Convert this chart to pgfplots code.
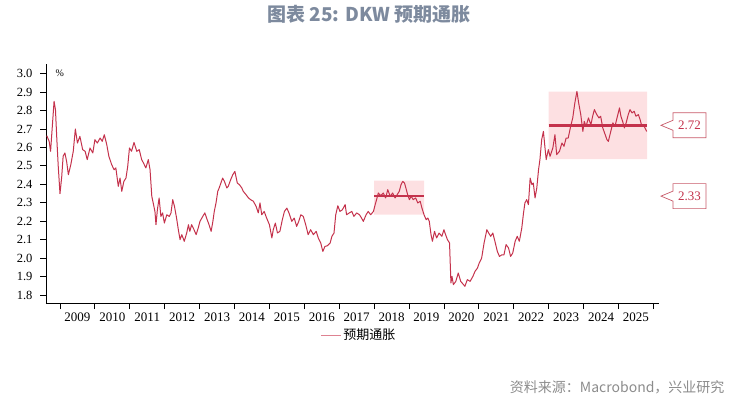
\documentclass[border=0pt]{standalone}
\usepackage{pgfplots}
\pgfplotsset{compat=1.18}
\usepackage{pgfplotstable}
\usepackage{fontspec}
\setmainfont{Liberation Serif}
\newfontfamily\cjk{Noto Sans CJK SC}
\definecolor{dkwred}{RGB}{196,50,76}
\definecolor{pinkfill}{RGB}{253,224,226}
\definecolor{titlecol}{RGB}{125,138,158}
\definecolor{srccol}{RGB}{140,140,140}
\definecolor{boxcol}{RGB}{200,90,105}
\definecolor{legcol}{RGB}{222,130,145}
\pgfplotstableread{
x y
2008.62 2.664
2008.69 2.633
2008.73 2.579
2008.77 2.687
2008.83 2.85
2008.87 2.805
2008.91 2.642
2008.95 2.497
2009.00 2.349
2009.05 2.443
2009.09 2.552
2009.14 2.57
2009.19 2.524
2009.24 2.452
2009.31 2.507
2009.38 2.579
2009.44 2.70
2009.50 2.624
2009.57 2.66
2009.65 2.588
2009.72 2.579
2009.78 2.534
2009.86 2.597
2009.94 2.57
2010.00 2.642
2010.07 2.624
2010.15 2.651
2010.21 2.633
2010.27 2.669
2010.34 2.615
2010.40 2.552
2010.48 2.507
2010.55 2.479
2010.60 2.489
2010.67 2.389
2010.72 2.434
2010.77 2.362
2010.83 2.416
2010.89 2.434
2010.94 2.497
2010.99 2.597
2011.05 2.579
2011.12 2.627
2011.20 2.579
2011.27 2.588
2011.34 2.534
2011.39 2.516
2011.46 2.489
2011.53 2.534
2011.58 2.479
2011.63 2.335
2011.67 2.299
2011.72 2.253
2011.75 2.181
2011.79 2.262
2011.84 2.326
2011.89 2.226
2011.94 2.245
2011.99 2.19
2012.06 2.235
2012.13 2.226
2012.18 2.245
2012.23 2.317
2012.28 2.28
2012.34 2.217
2012.39 2.154
2012.44 2.10
2012.49 2.127
2012.56 2.091
2012.63 2.136
2012.68 2.181
2012.72 2.145
2012.77 2.181
2012.84 2.154
2012.90 2.127
2012.96 2.163
2013.01 2.199
2013.09 2.226
2013.15 2.245
2013.20 2.217
2013.27 2.181
2013.33 2.145
2013.38 2.199
2013.42 2.253
2013.47 2.299
2013.52 2.362
2013.56 2.38
2013.61 2.407
2013.66 2.434
2013.71 2.416
2013.78 2.38
2013.82 2.389
2013.89 2.425
2013.95 2.452
2014.01 2.47
2014.08 2.407
2014.14 2.398
2014.21 2.38
2014.25 2.362
2014.33 2.344
2014.40 2.326
2014.46 2.317
2014.54 2.308
2014.62 2.28
2014.68 2.245
2014.73 2.299
2014.78 2.235
2014.85 2.253
2014.92 2.217
2015.00 2.181
2015.07 2.109
2015.11 2.154
2015.17 2.19
2015.23 2.136
2015.30 2.145
2015.37 2.208
2015.43 2.253
2015.50 2.271
2015.56 2.245
2015.64 2.199
2015.71 2.217
2015.78 2.172
2015.84 2.199
2015.90 2.235
2015.97 2.226
2016.04 2.181
2016.11 2.127
2016.18 2.154
2016.26 2.127
2016.34 2.145
2016.40 2.109
2016.47 2.082
2016.53 2.036
2016.59 2.063
2016.66 2.067
2016.74 2.082
2016.79 2.118
2016.85 2.136
2016.90 2.235
2016.96 2.284
2017.02 2.253
2017.09 2.262
2017.17 2.29
2017.21 2.235
2017.29 2.245
2017.36 2.253
2017.42 2.226
2017.50 2.245
2017.58 2.235
2017.64 2.217
2017.69 2.199
2017.77 2.235
2017.83 2.253
2017.90 2.235
2017.98 2.253
2018.03 2.29
2018.07 2.317
2018.12 2.353
2018.19 2.338
2018.26 2.353
2018.33 2.326
2018.39 2.371
2018.46 2.335
2018.53 2.353
2018.60 2.326
2018.66 2.344
2018.72 2.362
2018.77 2.398
2018.82 2.416
2018.87 2.407
2018.91 2.38
2018.96 2.344
2019.01 2.317
2019.06 2.335
2019.12 2.317
2019.19 2.326
2019.25 2.299
2019.32 2.308
2019.37 2.271
2019.43 2.235
2019.49 2.208
2019.54 2.217
2019.58 2.199
2019.63 2.127
2019.67 2.091
2019.73 2.145
2019.79 2.109
2019.86 2.136
2019.94 2.118
2020.00 2.154
2020.03 2.136
2020.10 2.10
2020.16 2.082
2020.20 1.865
2020.23 1.901
2020.27 1.856
2020.34 1.874
2020.41 1.919
2020.48 1.874
2020.56 1.856
2020.60 1.847
2020.67 1.883
2020.75 1.874
2020.83 1.901
2020.89 1.928
2020.96 1.946
2021.01 1.973
2021.08 2.0
2021.15 2.082
2021.23 2.154
2021.28 2.136
2021.34 2.118
2021.40 2.136
2021.46 2.091
2021.53 2.036
2021.59 2.009
2021.66 2.018
2021.72 2.018
2021.78 2.073
2021.85 2.055
2021.91 2.009
2021.97 2.027
2022.04 2.091
2022.10 2.118
2022.16 2.091
2022.23 2.163
2022.28 2.245
2022.32 2.299
2022.37 2.317
2022.42 2.29
2022.47 2.434
2022.52 2.398
2022.56 2.407
2022.61 2.326
2022.66 2.38
2022.71 2.479
2022.75 2.534
2022.80 2.642
2022.85 2.687
2022.90 2.588
2022.93 2.534
2022.99 2.588
2023.04 2.552
2023.12 2.597
2023.18 2.669
2023.23 2.561
2023.31 2.579
2023.38 2.624
2023.44 2.606
2023.50 2.651
2023.56 2.651
2023.63 2.714
2023.69 2.76
2023.75 2.841
2023.81 2.904
2023.86 2.841
2023.92 2.778
2023.98 2.687
2024.02 2.741
2024.07 2.714
2024.14 2.76
2024.21 2.723
2024.26 2.769
2024.31 2.805
2024.38 2.778
2024.44 2.76
2024.49 2.769
2024.55 2.706
2024.62 2.669
2024.67 2.642
2024.71 2.633
2024.78 2.687
2024.84 2.733
2024.90 2.714
2024.97 2.769
2025.03 2.814
2025.07 2.769
2025.12 2.741
2025.17 2.706
2025.22 2.733
2025.28 2.778
2025.33 2.805
2025.39 2.787
2025.45 2.796
2025.50 2.769
2025.57 2.778
2025.62 2.751
2025.67 2.714
2025.71 2.723
2025.76 2.706
2025.81 2.687
}\dkw
\begin{document}
\begin{tikzpicture}
\path[use as bounding box] (0pt,0pt) rectangle (750pt,399pt);
\node[font=\cjk\bfseries\fontsize{19}{19}\selectfont, text=titlecol] at (369pt,385pt) {图表 25: DKW 预期通胀};
\node[font=\cjk\fontsize{14}{14}\selectfont, text=srccol, anchor=east] at (728pt,12pt) {资料来源：Macrobond，兴业研究};
\begin{axis}[
  at={(46pt,96pt)}, anchor=south west,
  scale only axis, width=613.3pt, height=239.3pt,
  xmin=2008.599, xmax=2026.17,
  ymin=1.7565, ymax=3.054,
  axis x line*=bottom, axis y line*=left,
  axis line style={black, line width=0.8pt},
  tick align=outside, major tick length=6pt,
  tick style={black, line width=0.8pt},
  xtick={2009,2010,...,2026},
  xticklabels={2009,2010,2011,2012,2013,2014,2015,2016,2017,2018,2019,2020,2021,2022,2023,2024,2025,{}},
  xticklabel style={xshift=17.45pt, font=\fontsize{13}{13}\selectfont},
  ytick={1.8,1.9,...,3.01},
  yticklabel style={xshift=-4pt, font=\fontsize{12.5}{12.5}\selectfont, /pgf/number format/.cd, fixed, fixed zerofill, precision=1, assume math mode=true},
  clip=false,
  legend style={at={(0.51,-0.134)}, anchor=center, draw=none, fill=none, font=\cjk\fontsize{13}{13}\selectfont, inner sep=1pt},
  legend cell align=left,
  legend image code/.code={\draw[legcol, line width=1pt] (0pt,0pt) -- (20pt,0pt);},
]
\addplot[draw=none, fill=pinkfill, forget plot] coordinates {(2018.0,2.235) (2019.43,2.235) (2019.43,2.42) (2018.0,2.42) (2018.0,2.235)};
\addplot[draw=none, fill=pinkfill, forget plot] coordinates {(2023.0,2.537) (2025.82,2.537) (2025.82,2.902) (2023.0,2.902) (2023.0,2.537)};
\addplot[color=dkwred, line width=1.0pt, mark=none, line join=round] table[x=x, y=y] {\dkw};
\addlegendentry{预期通胀}
\addplot[color=dkwred, line width=2.6pt, mark=none, forget plot] coordinates {(2018.0,2.336) (2019.43,2.336)};
\addplot[color=dkwred, line width=2.6pt, mark=none, forget plot] coordinates {(2023.0,2.72) (2025.82,2.72)};
\node[font=\fontsize{10}{10}\selectfont, anchor=north west] at (rel axis cs:0,1) [xshift=6pt, yshift=-3pt] {\%};
\draw[boxcol, line width=0.7pt, fill=white] ([xshift=1.7pt]axis cs:2026.17,2.72) -- ++(12pt,5pt) -- ++(0pt,7.5pt) -- ++(33pt,0pt) -- ++(0pt,-25pt) -- ++(-33pt,0pt) -- ++(0pt,7.5pt) -- cycle;
\node[text=dkwred, font=\fontsize{13}{13}\selectfont] at ([xshift=30.2pt]axis cs:2026.17,2.72) {2.72};
\draw[boxcol, line width=0.7pt, fill=white] ([xshift=1.7pt]axis cs:2026.17,2.336) -- ++(12pt,5pt) -- ++(0pt,7.5pt) -- ++(33pt,0pt) -- ++(0pt,-25pt) -- ++(-33pt,0pt) -- ++(0pt,7.5pt) -- cycle;
\node[text=dkwred, font=\fontsize{13}{13}\selectfont] at ([xshift=30.2pt]axis cs:2026.17,2.336) {2.33};
\end{axis}
\end{tikzpicture}
\end{document}
